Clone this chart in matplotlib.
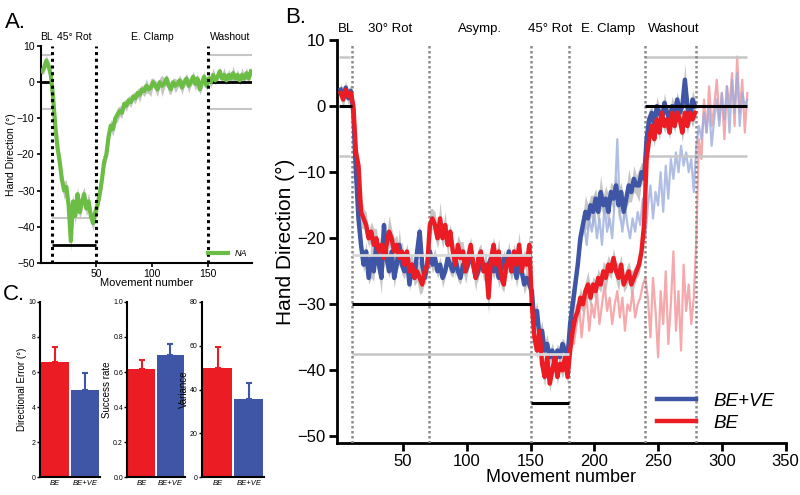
import matplotlib.pyplot as plt
import numpy as np

plt.rcParams['font.family'] = ['Liberation Sans', 'DejaVu Sans']

# ---- Panel A data (NA group), movements 1,3,5,...
na_mean = [3, 4, 6, 4.5, 2, -4, -12, -18, -22, -27, -30, -29, -34, -44, -33, -37, -31, -36, -33, -31,
           -35, -33, -37, -39, -36, -34, -31, -27, -22, -20, -15, -12, -13, -10, -9, -8, -8.5, -6, -6.5, -5,
           -5.5, -4, -4.5, -3, -3.5, -2, -2.5, -1, -2, -1.5, 0, -1, -2, 0, -1, -0.5, 1, -1, -2, 0,
           -1, -0.5, 0.5, -1.5, 0, 1, -1, 0, 1.5, -0.5, 1, -2, 0, 1.5, -1, 1, 0, 2, 0.5, 1.5,
           3, 1, 2, 0.5, 2, 1, 2.5, 1, 2, 0.5, 2, 1, 2.5, 1, 3]
na_se = [1, 1.5, 1.5, 1, 1.5, 1.5, 2, 2, 1.5, 2, 2.5, 2, 2, 3, 2, 2.5, 2, 2, 2.5, 2,
         2, 2.5, 2, 2, 2.5, 2, 2, 2.5, 2, 2, 2, 1.5, 2, 1.5, 2, 1.5, 1.5, 1.2, 1.5, 1.2,
         1.5, 1.2, 1.5, 1.2, 2, 1.2, 1.5, 2, 1.2, 2.5, 1.2, 1.5, 2, 1.2, 3, 1.5, 1.2, 2, 1.5, 1.2,
         2, 1.2, 1.5, 2, 1.2, 1.5, 2, 1.2, 1.5, 2, 1.2, 1.5, 2, 1.2, 1.5, 1.2, 1.5, 2, 1.2, 1.5,
         1.2, 1.5, 2, 1.2, 1.5, 1.2, 2, 1.2, 1.5, 1.2, 2, 1.2, 1.5, 1.2, 1.2]

# ---- Panel B data, movements 1,3,5,...,279
bv_mean = [2.5, 1.5, 2.8, 1.2, 2.3, -1, -10, -17, -21, -24, -22, -26, -23, -25, -21, -24, -26, -18, -23, -25,
           -22, -26, -24, -21, -24, -25, -23, -27, -24, -26, -22, -19, -24, -26, -24, -22, -24, -23, -25, -24,
           -26, -25, -23, -24, -25, -23, -25, -26, -24, -25, -24, -22, -24, -26, -25, -23, -24, -25, -24, -23,
           -25, -24, -26, -25, -23, -24, -22, -25, -24, -26, -24, -25, -27, -26, -27, -28, -33, -31, -35, -34,
           -37, -36, -38, -37, -39, -37, -38, -36, -37, -38, -33, -30, -27, -24, -20, -18, -16, -17, -15, -16,
           -14, -16, -13, -15, -14, -16, -13, -14, -12, -15, -13, -16, -14, -12, -13, -11, -12, -12, -10, -11,
           -5, -2, -1, -3, 0, -1, -2, 0.5, -1, -2, 0, -1, 1, -1, 0, 4, 0, -2, 1, 0]
be_mean = [2, 1, 2.5, 1.5, 2, 0, -7, -9, -16, -17, -18, -20, -19, -21, -20, -22, -21, -23, -21, -19,
           -20, -22, -21, -23, -22, -24, -22, -25, -24, -26, -25, -26, -27, -25, -24, -18, -17, -18, -20, -17,
           -20, -18, -21, -19, -22, -24, -21, -23, -22, -25, -23, -21, -24, -26, -23, -22, -25, -24, -29, -23,
           -21, -24, -22, -26, -27, -24, -23, -25, -22, -24, -21, -25, -23, -24, -21, -30, -35, -37, -34, -39,
           -41, -38, -42, -40, -38, -41, -39, -40, -38, -41, -37, -34, -32, -31, -29, -30, -28, -27, -29, -27,
           -28, -26, -27, -25, -26, -24, -25, -23, -25, -26, -24, -27, -26, -25, -27, -26, -25, -24, -22, -18,
           -8, -5, -3, -5, -2, -4, -1, -3, -2, -4, -1, -3, -1, -2, -4, -1, -3, -1, -2, -1]
bv_se = [1, 1, 1, 1, 1,
         1.5, 1.5, 2.5, 1.5, 1.2, 1.5, 1, 3, 1.5, 1.2, 1.5, 2.5, 1.2, 1.5, 1, 2, 1.5, 1.2, 2.5, 1.5,
         1.2, 1.5, 1, 1.5, 1.2, 2, 1, 1.5, 1.2, 1, 1.5, 1.2, 1.5, 1, 1.2, 1.5, 1, 1.2, 1.5, 1, 1.2, 1.5, 1, 1.2, 1.5,
         1, 1.2, 1.5, 1, 1.2, 1.5, 1, 1.2, 1, 1.5, 1.2, 1, 1.5, 1, 1.2, 1, 1.5, 1.2, 1, 1.5, 1.2, 1, 1.5, 1.2, 1.5,
         1.5, 2, 1.5, 1.2, 1.5, 1.2, 1.5, 1, 1.2, 1.5, 1, 1.2, 1, 1.2, 1.5,
         1.5, 2, 2.5, 1.5, 2, 1.5, 2.5, 2, 1.5, 2.5, 1.5, 2, 2.5, 1.5, 2, 2.5, 1.5, 2, 1.5, 2.5, 1.5, 2, 1.5, 2.5, 1.5, 2, 1.5, 2.5, 1.5, 2,
         1.2, 1.5, 1, 1.2, 1.5, 1, 1.2, 1.5, 1, 1.2, 1.5, 1, 1.2, 1.5, 1, 2.5, 1.2, 1, 1.5, 1]
be_se = [1, 1.2, 1, 1.2, 1,
         1.5, 2, 1.5, 2.5, 1.5, 2, 1.2, 1.5, 2.5, 1.5, 1.2, 2, 1.5, 1.2, 2.5, 1.5, 2, 1.5, 1.2, 1.5,
         1.5, 1.2, 2, 1.5, 1.2, 1.5, 2.5, 1.2, 1.5, 2, 2.5, 1.5, 2, 1.5, 2.5, 1.5, 2, 1.5, 1.2, 1.5, 2, 1.5, 2.5, 1.5, 2,
         1.5, 1.2, 1.5, 2, 1.5, 1.2, 1.5, 2, 2.5, 1.5, 1.2, 1.5, 2, 1.5, 1.2, 1.5, 2, 1.5, 1.2, 1.5, 2, 1.5, 1.2, 1.5, 1.5,
         1.5, 1.5, 1.2, 1.5, 1.2, 1.5, 1, 1.2, 1.5, 1, 1.2, 1, 1.2, 1.5, 1.2,
         1.5, 1.5, 2, 1.5, 1.5, 1.2, 1.5, 2, 1.5, 1.2, 1.5, 1.5, 1.2, 1.5, 2, 1.5, 1.2, 1.5, 1.5, 2, 1.5, 1.2, 1.5, 1.5, 2, 1.5, 1.2, 1.5, 1.5, 1.5,
         1.5, 1.2, 1, 1.2, 1, 1.2, 1.5, 1, 1.2, 1, 1.5, 1, 1.2, 1, 1.5, 1, 1.2, 1, 1.2, 1]

# faint traces, movements 182,184,...,320
bv_faint = [-30, -28, -25, -22, -20, -18, -21, -17, -19, -16, -20, -17, -21, -15, -19, -17, -20, -14, -5, -16,
            -19, -15, -18, -20, -17, -19, -16, -18, -14, -20, -15, -12, -17, -13, -15, -10, -16, -9, -14, -8,
            -11, -7, -10, -6, -9, -7, -10, -8, -13, -6, -3, -5, -1, -4, 0, -6, -2, 1, -3, 2,
            -2, 3, -4, 4, -1, 5, -3, 2, 0, 1]
be_faint = [-30, -36, -33, -30, -35, -31, -29, -34, -30, -32, -28, -33, -30, -27, -31, -29, -33, -30, -28, -32,
            -29, -34, -30, -31, -28, -32, -30, -29, -27, -26, -29, -35, -26, -31, -38, -28, -33, -25, -36, -30,
            -22, -34, -28, -37, -24, -31, -27, -33, -29, -20, -5, -8, 1, -4, 3, -3, 0, 4, -2, 2,
            -5, 3, 0, 5, -3, 7.5, -1, 4, -4, 2]

# ---- Panel C data
groups = ['BE', 'BE+VE']
dir_error = [6.6, 5.0]
dir_error_se = [0.85, 0.95]
success = [0.62, 0.70]
success_se = [0.05, 0.06]
variance = [50, 35.5]
variance_se = [9.5, 7.5]

RED = '#ec1c24'
BLUE = '#3f55a5'
GREEN = '#6cbd45'
BAND = '#c6c6c6'

fig = plt.figure(figsize=(8, 4.95), dpi=100)

# ================= Panel A =================
axA = fig.add_axes([0.051, 0.469, 0.264, 0.438])
xa = 1 + 2 * np.arange(len(na_mean))
na_mean_a = np.array(na_mean)
na_se_a = np.array(na_se)
axA.fill_between(xa, na_mean_a - na_se_a, na_mean_a + na_se_a, color=BAND, lw=0, zorder=1)
axA.plot(xa, na_mean_a, color=GREEN, lw=3, zorder=3, label='NA')
for xv in [10, 50, 150]:
    axA.vlines(xv, -50, 10, colors='k', linestyles=(0, (1, 1.2)), lw=2.2, zorder=4)
axA.hlines(0, 0, 10, colors='k', lw=2, zorder=2)
axA.hlines([7.5, -7.5], 0, 10, colors=BAND, lw=1.5, zorder=2)
axA.hlines(-45, 10, 50, colors='k', lw=2, zorder=2)
axA.hlines(-37.5, 10, 50, colors=BAND, lw=1.5, zorder=2)
axA.hlines(0, 150, 190, colors='k', lw=2, zorder=2)
axA.hlines([7.5, -7.5], 150, 190, colors=BAND, lw=1.5, zorder=2)
axA.set_xlim(0, 190)
axA.set_ylim(-50, 10)
axA.set_xticks([50, 100, 150])
axA.set_yticks([-50, -40, -30, -20, -10, 0, 10])
axA.spines['top'].set_visible(False)
axA.spines['right'].set_visible(False)
axA.spines['left'].set_linewidth(1.5)
axA.spines['bottom'].set_linewidth(1.5)
axA.tick_params(labelsize=7.5, length=3, width=1.2, pad=1.5)
axA.set_ylabel('Hand Direction (°)', fontsize=7.5, labelpad=1)
axA.set_xlabel('Movement number', fontsize=8, labelpad=-1)
for xt, s in [(5, 'BL'), (30, '45° Rot'), (100, 'E. Clamp'), (170, 'Washout')]:
    axA.text(xt, 1.04, s, transform=axA.get_xaxis_transform(), ha='center', va='center', fontsize=7.5)
axA.legend(loc='lower right', frameon=False, handlelength=2.2,
           borderaxespad=0.1, prop={'style': 'italic', 'size': 6.5})

# ================= Panel B =================
axB = fig.add_axes([0.421, 0.105, 0.561, 0.814])
xb = 1 + 2 * np.arange(len(bv_mean))
xf = 182 + 2 * np.arange(len(bv_faint))
bv = np.array(bv_mean)
be = np.array(be_mean)
axB.fill_between(xb, bv - np.array(bv_se), bv + np.array(bv_se), color=BAND, lw=0, zorder=1)
axB.fill_between(xb, be - np.array(be_se), be + np.array(be_se), color=BAND, lw=0, zorder=1)
axB.plot(xf, be_faint, color='#f49a9e', lw=1.6, alpha=0.85, zorder=2)
axB.plot(xf, bv_faint, color='#9daedd', lw=1.6, alpha=0.8, zorder=2)
axB.plot(xb, bv, color=BLUE, lw=3.2, zorder=4, label='BE+VE')
axB.plot(xb, be, color=RED, lw=3.2, zorder=5, label='BE')
for xv in [10, 70, 150, 180, 240, 280]:
    axB.vlines(xv, -51, 9.5, colors='#8a8a8a', linestyles=(0, (1, 1)), lw=1.8, zorder=3)
axB.hlines(0, 0, 10, colors='k', lw=2.2, zorder=6)
axB.hlines([7.5, -7.5], 0, 8, colors=BAND, lw=1.8, zorder=2)
axB.hlines(-30, 10, 150, colors='k', lw=2.2, zorder=6)
axB.hlines(-22.5, 10, 150, colors='#d8d8d8', lw=2, zorder=6)
axB.hlines(-37.5, 10, 150, colors=BAND, lw=1.8, zorder=2)
axB.hlines(-45, 150, 180, colors='k', lw=2.2, zorder=6)
axB.hlines(-37.5, 150, 180, colors='#d8d8d8', lw=2, zorder=6)
axB.hlines(0, 240, 320, colors='k', lw=2.2, zorder=6)
axB.hlines([7.5, -7.5], 240, 320, colors=BAND, lw=1.8, zorder=2)
axB.set_xlim(-2, 350)
axB.set_ylim(-51, 10)
axB.set_xticks([50, 100, 150, 200, 250, 300, 350])
axB.set_yticks([-50, -40, -30, -20, -10, 0, 10])
axB.spines['top'].set_visible(False)
axB.spines['right'].set_visible(False)
axB.spines['left'].set_linewidth(2)
axB.spines['bottom'].set_linewidth(2)
axB.tick_params(labelsize=12, length=6, width=2, pad=2)
axB.set_ylabel('Hand Direction (°)', fontsize=15, labelpad=2)
axB.set_xlabel('Movement number', fontsize=13, labelpad=0)
for xt, s in [(5, 'BL'), (40, '30° Rot'), (110, 'Asymp.'), (165, '45° Rot'),
              (211, 'E. Clamp'), (262, 'Washout')]:
    axB.text(xt, 1.028, s, transform=axB.get_xaxis_transform(), ha='center', va='center', fontsize=9.5)
axB.legend(loc='lower right', frameon=False, handlelength=2.1, handletextpad=0.9, borderaxespad=0.2,
           prop={'style': 'italic', 'size': 13.5}, labelspacing=0.25)

# ================= Panel C =================
c_specs = [
    ([0.050, 0.036, 0.075, 0.354], dir_error, dir_error_se, 10, [0, 2, 4, 6, 8, 10], 'Directional Error (°)', None),
    ([0.159, 0.036, 0.072, 0.354], success, success_se, 1.0, [0.0, 0.2, 0.4, 0.6, 0.8, 1.0], 'Success rate', '%.1f'),
    ([0.2525, 0.036, 0.078, 0.354], variance, variance_se, 80, [0, 20, 40, 60, 80], 'Variance', None),
]
for pos, vals, errs, top, ticks, lab, fmt in c_specs:
    ax = fig.add_axes(pos)
    cols = [RED, BLUE]
    ax.bar([0, 1], vals, width=0.92, color=cols, zorder=2)
    for i in range(2):
        ax.errorbar(i, vals[i], yerr=[[0], [errs[i]]], color=cols[i], capsize=2, capthick=1.5,
                    elinewidth=1.5, zorder=3)
    ax.set_xlim(-0.5, 1.5)
    ax.set_ylim(0, top)
    ax.set_yticks(ticks)
    if fmt:
        ax.set_yticklabels([fmt % t for t in ticks])
    ax.set_xticks([0, 1])
    ax.set_xticklabels(groups, style='italic', fontsize=5.5)
    ax.tick_params(axis='x', length=0, pad=2)
    ax.tick_params(axis='y', labelsize=5, length=2, width=1, pad=1)
    ax.spines['top'].set_visible(False)
    ax.spines['right'].set_visible(False)
    ax.spines['left'].set_linewidth(1.5)
    ax.spines['bottom'].set_linewidth(1.5)
    ax.set_ylabel(lab, fontsize=7, labelpad=1)

fig.text(0.006, 0.955, 'A.', fontsize=16, va='center')
fig.text(0.356, 0.965, 'B.', fontsize=16, va='center')
fig.text(0.004, 0.405, 'C.', fontsize=16, va='center')

fig.savefig('out.png', dpi=100)
